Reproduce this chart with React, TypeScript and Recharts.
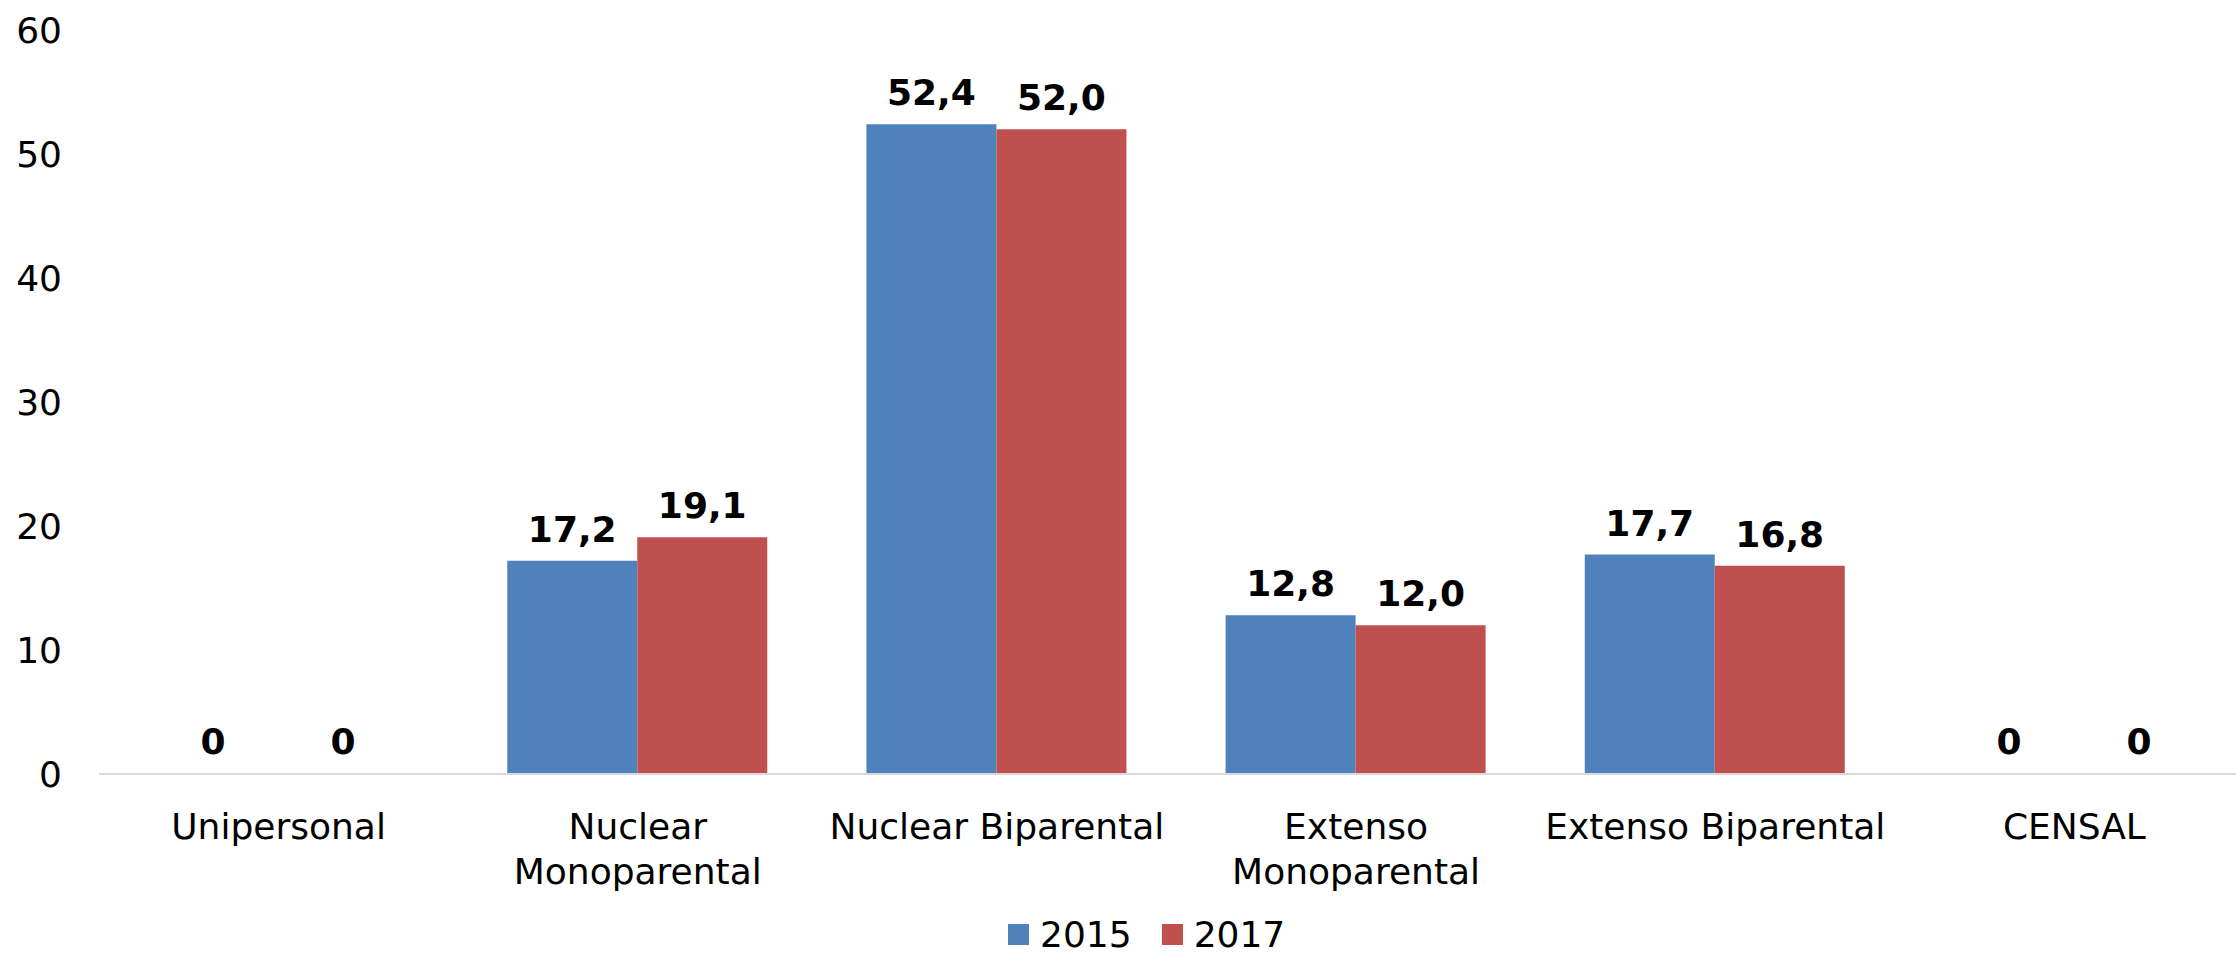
import React from "react";
import { BarChart, Bar, XAxis, YAxis, Legend, LabelList, Cell } from "recharts";

const categories = ["Unipersonal", "Nuclear Monoparental", "Nuclear Biparental", "Extenso Monoparental", "Extenso Biparental", "CENSAL"];
const categoryLines = [["Unipersonal"], ["Nuclear", "Monoparental"], ["Nuclear Biparental"], ["Extenso", "Monoparental"], ["Extenso Biparental"], ["CENSAL"]];
const values2015 = [0, 17.2, 52.4, 12.8, 17.7, 0];
const values2017 = [0, 19.1, 52.0, 12.0, 16.8, 0];
const yTicks = [0, 10, 20, 30, 40, 50, 60];
const seriesNames = ["2015", "2017"];
const colors = ["#4F81BD", "#C0504D"];

const data = categories.map((name, i) => ({ name, v2015: values2015[i], v2017: values2017[i] }));

const FONT = "'DejaVu Sans', Verdana, sans-serif";

const fmt = (v: any) => (Number(v) === 0 ? "0" : Number(v).toFixed(1).replace(".", ","));

const XTick = (props: any) => {
  const { x, y, payload, index } = props;
  const lines = categoryLines[index] ?? [String(payload.value)];
  return (
    <text x={x} y={y + 63} textAnchor="middle" fontSize={36} fontFamily={FONT} fill="#000">
      {lines.map((l: string, i: number) => (
        <tspan key={i} x={x} dy={i === 0 ? 0 : 45}>{l}</tspan>
      ))}
    </text>
  );
};

const LegendContent = () => (
  <div style={{ display: "flex", alignItems: "center", height: 40, paddingLeft: 1008, paddingTop: 3, boxSizing: "border-box", fontFamily: FONT, fontSize: 36, color: "#000" }}>
    {seriesNames.map((n, i) => (
      <div key={n} style={{ display: "flex", alignItems: "center", marginRight: 30 }}>
        <div style={{ width: 21, height: 21, background: colors[i], marginRight: 11 }} />
        <span style={{ lineHeight: "40px" }}>{n}</span>
      </div>
    ))}
  </div>
);

const minSize = (v: any) => (Number(v) === 0 ? 1 : 0);
const labelStyle = { fontSize: 36, fontWeight: 700, fontFamily: FONT, fill: "#000" };

export default function App() {
  return (
    <div style={{ position: "absolute", left: 0, top: 0, width: 2236, height: 953, overflow: "hidden", background: "#fff" }}>
      <BarChart width={2254} height={953} data={data} margin={{ top: 30, right: 0, left: 0, bottom: 0 }} barCategoryGap="13.67%" barGap={0}>
        <XAxis dataKey="name" interval={0} height={139} tickLine={false} tickSize={0} axisLine={{ stroke: "#D9D9D9", strokeWidth: 2 }} tick={<XTick />} />
        <YAxis width={99} domain={[0, 60]} ticks={yTicks} axisLine={false} tickLine={false} tickSize={0} tickMargin={37} tick={{ fontSize: 36, fontFamily: FONT, fill: "#000" }} />
        <Legend verticalAlign="bottom" height={40} content={<LegendContent />} />
        <Bar dataKey="v2015" name="2015" fill={colors[0]} minPointSize={minSize} isAnimationActive={false}>
          {values2015.map((v, i) => (
            <Cell key={i} fill={v === 0 ? "transparent" : colors[0]} />
          ))}
          <LabelList dataKey="v2015" position="top" offset={19} formatter={fmt} style={labelStyle} />
        </Bar>
        <Bar dataKey="v2017" name="2017" fill={colors[1]} minPointSize={minSize} isAnimationActive={false}>
          {values2017.map((v, i) => (
            <Cell key={i} fill={v === 0 ? "transparent" : colors[1]} />
          ))}
          <LabelList dataKey="v2017" position="top" offset={19} formatter={fmt} style={labelStyle} />
        </Bar>
      </BarChart>
    </div>
  );
}
